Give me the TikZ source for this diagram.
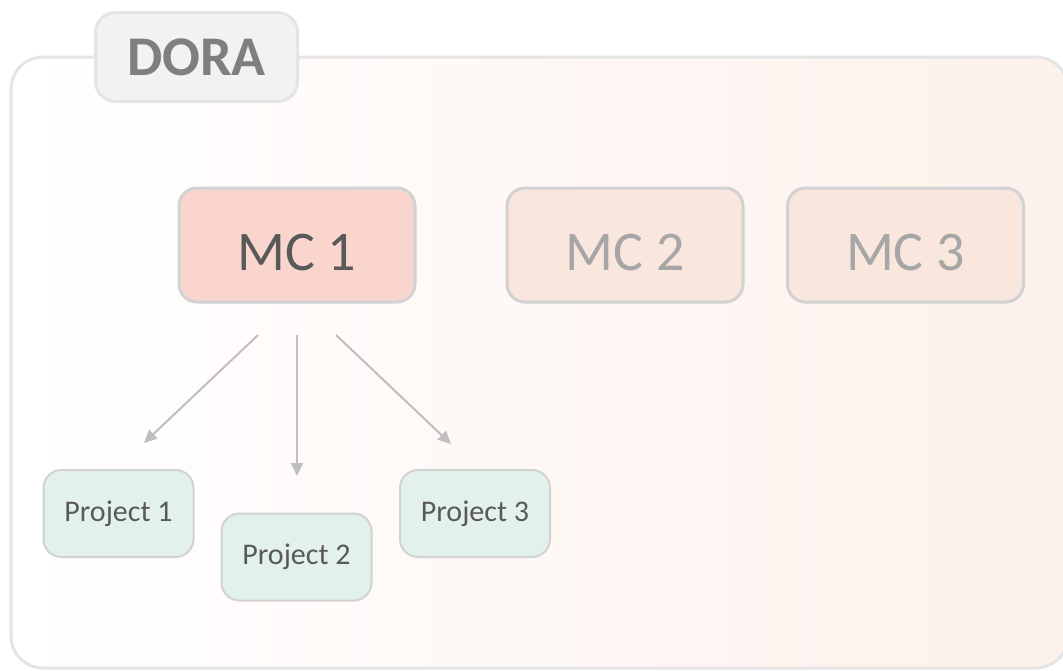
\documentclass[tikz,border=0pt]{standalone}
\usepackage{fontspec}
\setmainfont{Carlito}
\definecolor{frameline}{HTML}{E5E5E5}
\definecolor{tabfill}{HTML}{F2F2F2}
\definecolor{tabtext}{HTML}{7F7F7F}
\definecolor{boxline}{HTML}{D2D2D2}
\definecolor{mcactive}{HTML}{F9D5CD}
\definecolor{mcidle}{HTML}{F9E6DC}
\definecolor{projfill}{HTML}{E3F1EC}
\definecolor{darktext}{HTML}{595959}
\definecolor{idletext}{HTML}{A6A6A6}
\definecolor{arrowgray}{HTML}{BFBFBF}
\definecolor{warm}{HTML}{FDF1EC}
\usetikzlibrary{arrows.meta}
\begin{document}
\begin{tikzpicture}[x=1pt,y=-1pt,
  mcbox/.style={draw=boxline, line width=3pt, rounded corners=18pt,
    minimum width=236pt, minimum height=114pt, inner sep=0pt,
    text height=50pt, text depth=0pt,
    font=\fontsize{56}{60}\selectfont},
  projbox/.style={draw=boxline, line width=2pt, fill=projfill, rounded corners=18pt,
    minimum width=150pt, minimum height=87pt, inner sep=0pt,
    text=darktext, font=\fontsize{30}{34}\selectfont},
  link/.style={draw=arrowgray, line width=2pt, -{Triangle[length=13pt,width=12pt]}}]
\useasboundingbox (0,0) rectangle (1063,670);
% outer container with a soft warm gradient
\path[shade, shading angle=65, left color=white, right color=warm,
      rounded corners=32pt] (11,57) rectangle (1068,668);
\draw[frameline, line width=3pt, rounded corners=32pt] (11,57) rectangle (1068,668);
% title tab
\node[draw=frameline, line width=3pt, fill=tabfill, rounded corners=20pt,
      minimum width=202pt, minimum height=89pt, inner sep=0pt,
      text=tabtext, font=\bfseries\fontsize{56}{60}\selectfont]
      (tab) at (196.5,57) {DORA};
% MC boxes
\node[mcbox, fill=mcactive, text=darktext] (mc1) at (297,245) {MC 1};
\node[mcbox, fill=mcidle, text=idletext] (mc2) at (625,245) {MC 2};
\node[mcbox, fill=mcidle, text=idletext] (mc3) at (905.5,245) {MC 3};
% projects
\node[projbox] (p1) at (118.5,513.5) {Project 1};
\node[projbox] (p2) at (296.5,557) {Project 2};
\node[projbox] (p3) at (475,513.5) {Project 3};
% arrow start points below MC 1
\coordinate (s1) at (258,335);
\coordinate (s2) at (297,335);
\coordinate (s3) at (336,335);
\coordinate (e1) at (144,443);
\coordinate (e2) at (297,476);
\coordinate (e3) at (451,444);
\draw[link] (s1) -- (e1);
\draw[link] (s2) -- (e2);
\draw[link] (s3) -- (e3);
\end{tikzpicture}
\end{document}
